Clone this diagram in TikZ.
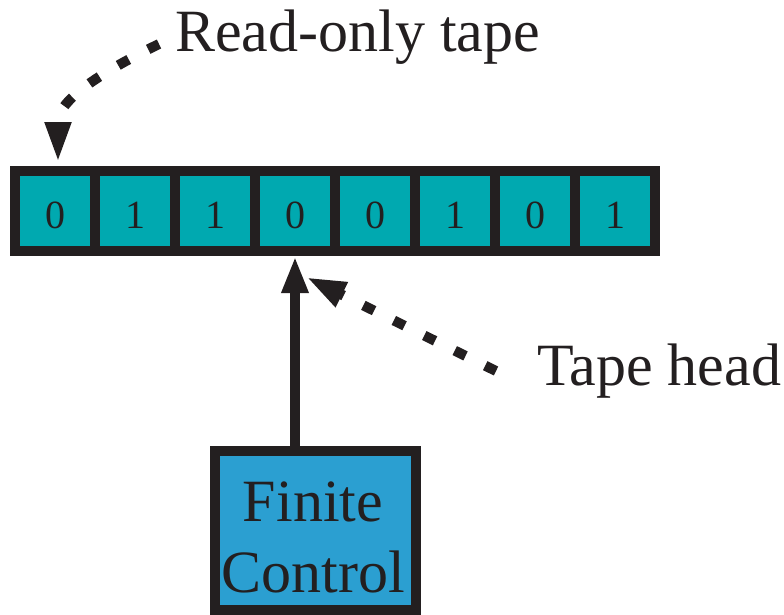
\documentclass[tikz,border=0pt]{standalone}
\usepackage{fontspec}
\setmainfont{Liberation Serif}
\usetikzlibrary{arrows.meta}
\definecolor{ink}{HTML}{231F20}
\definecolor{cellteal}{HTML}{00A9B0}
\definecolor{ctrlblue}{HTML}{2B9FD1}
\begin{document}
\begin{tikzpicture}[x=1pt,y=-1pt,
  cellbox/.style={fill=cellteal, minimum width=70pt, minimum height=70pt, inner sep=0pt,
    text height=34pt, text depth=0pt, font=\fontsize{40}{48}\selectfont, text=ink},
  lbl/.style={font=\fontsize{60}{71}\selectfont, text=ink, inner sep=0pt},
  dotline/.style={draw=ink, line width=10pt, dash pattern=on 12pt off 22pt},
  solidarrow/.style={draw=ink, line width=10pt}
]
\useasboundingbox (0,0) rectangle (784,614);
% tape
\node[fill=ink, minimum width=650pt, minimum height=90pt, inner sep=0pt] (tape) at (335,211) {};
\foreach \d [count=\i from 0] in {0,1,1,0,0,1,0,1}
  \node[cellbox] (c\i) at (55+80*\i, 211) {\d};
% finite control
\node[draw=ink, line width=10pt, fill=ctrlblue, minimum width=201pt, minimum height=159pt,
  inner sep=0pt] (fc) at (315.5,530.5) {};
\node[lbl, align=center] (fctext) at (313,537.5) {Finite\\Control};
\draw[solidarrow, -{Triangle[length=37pt,width=25pt]}] (fc.north -| c3) -- (tape.south -| c3);
% tape head label
\node[lbl, anchor=base west] (th) at (537,385) {Tape head};
\coordinate (ths) at (496,371);
\coordinate (tht) at (306,277);
\draw[dotline, -{Triangle[length=40pt,width=25pt]}] (ths) -- (tht);
% read-only label
\node[lbl, anchor=base west] (ro) at (175,51) {Read-only tape};
\coordinate (ros) at (159,44);
\coordinate (rob) at (58,122);
\coordinate (rot) at (58,163);
\draw[dotline] (ros) .. controls (114,66) and (58,97) .. (rob);
\draw[solidarrow, -{Triangle[length=41pt,width=24pt]}] (rob) -- (rot);
\end{tikzpicture}
\end{document}
